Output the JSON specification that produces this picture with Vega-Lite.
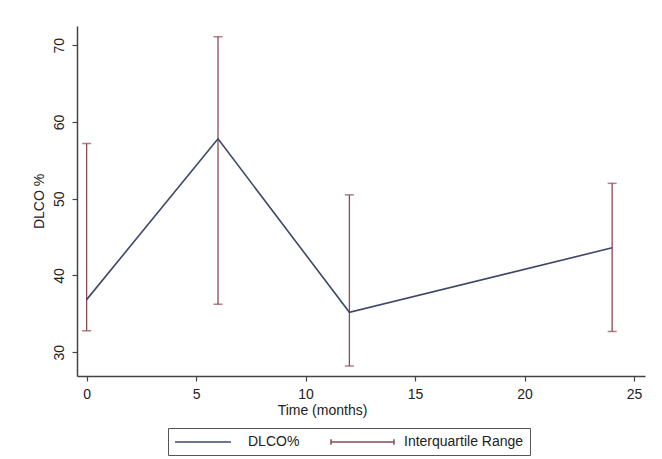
{
  "$schema": "https://vega.github.io/schema/vega-lite/v6.json",
  "width": 568,
  "height": 350,
  "autosize": {"type": "none"},
  "padding": {"left": 77, "top": 26, "right": 17, "bottom": 83},
  "background": "white",
  "config": {
    "font": "Liberation Sans",
    "view": {"stroke": null},
    "axis": {
      "grid": false,
      "domainColor": "#444",
      "domainWidth": 1.5,
      "tickColor": "#444",
      "tickWidth": 1.2,
      "tickSize": 5,
      "labelFont": "Liberation Sans",
      "labelFontSize": 14,
      "labelColor": "#222",
      "titleFont": "Liberation Sans",
      "titleFontSize": 14,
      "titleFontWeight": "normal",
      "titleColor": "#222"
    }
  },
  "data": {
    "values": [
      {"month": 0, "median": 36.85, "q1": 32.8, "q3": 57.2},
      {"month": 6, "median": 57.8, "q1": 36.25, "q3": 71.1},
      {"month": 12, "median": 35.2, "q1": 28.2, "q3": 50.5},
      {"month": 24, "median": 43.6, "q1": 32.7, "q3": 52.0}
    ]
  },
  "layer": [
    {
      "mark": {"type": "errorbar", "ticks": {"size": 9, "thickness": 1.5}, "rule": {"strokeWidth": 1.3}},
      "encoding": {
        "x": {"field": "month", "type": "quantitative", "title": "Time (months)"},
        "y": {"field": "q1", "type": "quantitative", "title": "DLCO %"},
        "y2": {"field": "q3"},
        "color": {"datum": "Interquartile Range"}
      }
    },
    {
      "mark": {"type": "line", "strokeWidth": 1.6},
      "encoding": {
        "x": {
          "field": "month",
          "type": "quantitative",
          "scale": {"domain": [-0.44, 25.5], "nice": false, "zero": false},
          "axis": {"values": [0, 5, 10, 15, 20, 25], "title": "Time (months)", "labelPadding": 6, "titlePadding": 2, "titleX": 245, "labelFlush": false}
        },
        "y": {
          "field": "median",
          "type": "quantitative",
          "title": "DLCO %",
          "scale": {"domain": [26.9, 72.5], "nice": false, "zero": false},
          "axis": {"values": [30, 40, 50, 60, 70], "title": "DLCO %", "labelAngle": -90, "labelAlign": "center", "labelBaseline": "bottom", "labelPadding": 6, "titlePadding": 6, "labelFlush": false}
        },
        "color": {
          "datum": "DLCO%",
          "scale": {"domain": ["DLCO%", "Interquartile Range"], "range": ["#3d4868", "#8c4a56"]},
          "legend": {
            "title": null,
            "orient": "none",
            "direction": "horizontal",
            "legendX": 91,
            "legendY": 402,
            "padding": 6,
            "strokeColor": "#555",
            "fillColor": "white",
            "symbolSize": 196,
            "symbolStrokeWidth": 1.5,
            "symbolType": "stroke",
            "labelFontSize": 14,
            "labelFont": "Liberation Sans",
            "labelColor": "#222",
            "labelOffset": 58,
            "columnPadding": 28,
            "encode": {
              "symbols": {
                "update": {
                  "shape": {"signal": "datum.value == 'DLCO%' ? 'M-1,0H7' : 'M-1,-0.4V0.4M-1,0H8M8,-0.4V0.4'"},
                  "fill": {"value": "transparent"},
                  "strokeWidth": {"value": 1.5}
                }
              }
            }
          }
        }
      }
    }
  ]
}
